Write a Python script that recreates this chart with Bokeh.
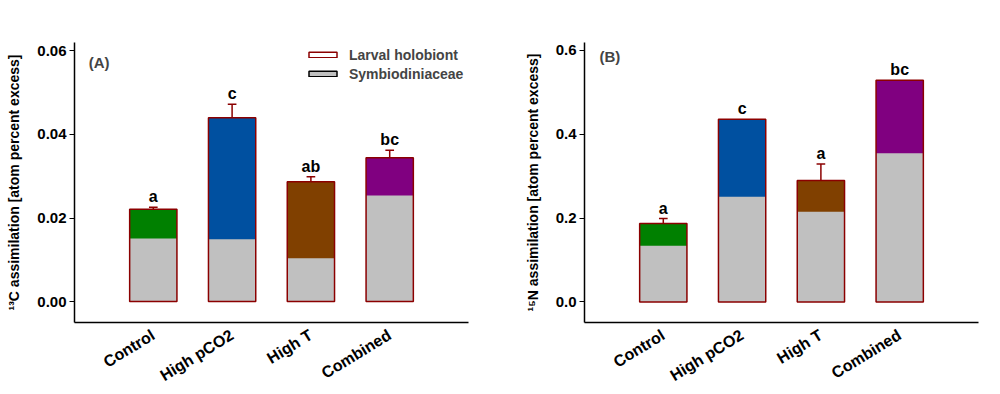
from bokeh.plotting import figure
from bokeh.layouts import row
from bokeh.models import FixedTicker, NumeralTickFormatter, Legend, LegendItem, Label, ColumnDataSource, Range1d
from bokeh.embed import file_html
from bokeh.resources import INLINE

categories = ["Control", "High pCO2", "High T", "Combined"]
colors = ["#008000", "#0050A0", "#804000", "#800080"]

# Panel A: 13C
c_total = [0.0221, 0.0440, 0.0287, 0.0344]
c_symb = [0.0151, 0.0149, 0.0104, 0.0254]
c_err = [0.0005, 0.0032, 0.0012, 0.0018]
c_letters = ["a", "c", "ab", "bc"]

# Panel B: 15N
n_total = [0.187, 0.436, 0.290, 0.529]
n_symb = [0.134, 0.251, 0.215, 0.355]
n_err = [0.012, 0.0, 0.039, 0.0]
n_letters = ["a", "c", "a", "bc"]

FONT = "Liberation Sans"
EDGE = "#8B0000"


def make_panel(total, symb, err, letters, ylabel, yticks, yfmt, yrange, tag, tagpos,
               border_left, border_right, legend=False):
    p = figure(frame_width=394, height=394, output_backend="svg", toolbar_location=None,
               x_range=Range1d(0, 5), y_range=Range1d(*yrange),
               min_border_left=border_left, min_border_right=border_right,
               min_border_top=42, min_border_bottom=70)
    p.outline_line_color = None
    p.grid.visible = False
    xs = [i + 1 for i in range(len(categories))]
    src = ColumnDataSource(dict(x=xs, total=total, symb=symb, color=colors))
    w = 0.6
    p.vbar(x="x", top="total", bottom=0, width=w, fill_color="color", line_color=None, source=src)
    p.vbar(x="x", top="symb", bottom=0, width=w, fill_color="#C0C0C0", line_color=None, source=src)
    p.vbar(x="x", top="total", bottom=0, width=w, fill_color=None, line_color=EDGE,
           line_width=1.5, source=src)
    ex = [x for x, e in zip(xs, err) if e > 0]
    et = [t for t, e in zip(total, err) if e > 0]
    eu = [t + e for t, e in zip(total, err) if e > 0]
    p.segment(x0=ex, y0=et, x1=ex, y1=eu, line_color=EDGE, line_width=1.5)
    p.segment(x0=[x - 0.055 for x in ex], y0=eu, x1=[x + 0.055 for x in ex], y1=eu,
              line_color=EDGE, line_width=1.5)
    ly = [t + e for t, e in zip(total, err)]
    p.text(x=xs, y=ly, text=letters, text_align="center", text_baseline="bottom",
           y_offset=-2, text_font_size="16px", text_font_style="bold",
           text_font={"value": FONT}, text_color="black")

    p.add_layout(Label(x=tagpos[0], y=tagpos[1], text=tag, text_font=FONT,
                       text_font_size="15px", text_font_style="bold",
                       text_baseline="middle"))

    xa = p.xaxis[0]
    xa.ticker = FixedTicker(ticks=xs)
    xa.major_label_overrides = {x: c for x, c in zip(xs, categories)}
    xa.major_tick_line_color = None
    xa.minor_tick_line_color = None
    xa.major_label_orientation = 0.55
    xa.major_label_text_font = FONT
    xa.major_label_text_font_size = "16px"
    xa.major_label_text_font_style = "bold"
    xa.major_label_text_color = "black"
    xa.axis_line_width = 1.5
    xa.major_label_standoff = 5

    ya = p.yaxis[0]
    ya.ticker = FixedTicker(ticks=yticks)
    ya.formatter = NumeralTickFormatter(format=yfmt)
    ya.minor_tick_line_color = None
    ya.major_tick_out = 5
    ya.major_tick_in = 0
    ya.major_label_standoff = 3
    ya.major_label_text_font = FONT
    ya.major_label_text_font_size = "15px"
    ya.major_label_text_font_style = "bold"
    ya.major_label_text_color = "black"
    ya.axis_label = ylabel
    ya.axis_label_text_font = FONT
    ya.axis_label_text_font_size = "14px"
    ya.axis_label_text_font_style = "bold"
    ya.axis_label_text_color = "black"
    ya.axis_label_standoff = 12
    ya.axis_line_width = 1.5

    if legend:
        r1 = p.vbar(x=[-10], top=[0], bottom=0, width=0.1, fill_color="white", line_color=EDGE, line_width=1.5)
        r2 = p.vbar(x=[-10], top=[0], bottom=0, width=0.1, fill_color="#C0C0C0", line_color="black", line_width=1.5)
        lg = Legend(items=[LegendItem(label="Larval holobiont", renderers=[r1]),
                           LegendItem(label="Symbiodiniaceae", renderers=[r2])],
                    location=(231, 240), glyph_width=35, glyph_height=7,
                    label_height=17, spacing=2, padding=0, label_standoff=9,
                    border_line_color=None, background_fill_alpha=0,
                    label_text_font=FONT, label_text_font_size="14px",
                    label_text_font_style="bold")
        p.add_layout(lg)
    return p


pA = make_panel(c_total, c_symb, c_err, c_letters,
                "\u00b9\u00b3C assimilation [atom percent excess]",
                [0, 0.02, 0.04, 0.06], "0.00", (-0.005, 0.062), "(A)", (0.18, 0.0571),
                74, 26, legend=True)
pB = make_panel(n_total, n_symb, n_err, n_letters,
                "\u00b9\u2075N assimilation [atom percent excess]",
                [0, 0.2, 0.4, 0.6], "0.0", (-0.049, 0.619), "(B)", (0.19, 0.586),
                90, 12)

layout = row(pA, pB, spacing=0)
open("out.html", "w").write(file_html(layout, INLINE))
